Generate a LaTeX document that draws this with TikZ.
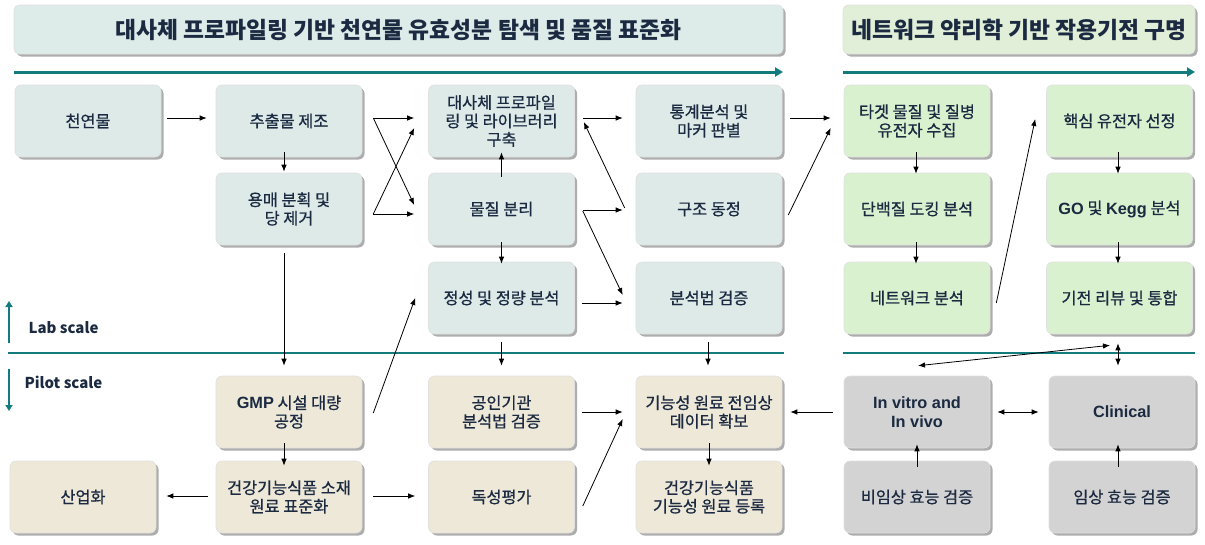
\documentclass[tikz,border=0pt]{standalone}
\usepackage{fontspec}
\setmainfont{Noto Sans CJK KR}
\newfontfamily\medf{Noto Sans CJK KR}[FakeBold=0.7]
\newfontfamily\latf{Liberation Sans}
\usetikzlibrary{arrows.meta,calc,shadows}
\definecolor{tealc}{HTML}{137B7E}
\definecolor{txt}{HTML}{1B2A41}
\definecolor{bluebox}{HTML}{DDEAE8}
\definecolor{greenbox}{HTML}{DAF1D0}
\definecolor{beigebox}{HTML}{EEE8D9}
\definecolor{graybox}{HTML}{D3D3D3}
\definecolor{titleL}{HTML}{DDECE9}
\definecolor{titleR}{HTML}{E1EFD8}
\newcommand{\Lbf}[1]{{\latf\bfseries #1}}
\begin{document}
\begin{tikzpicture}[x=1pt,y=-1pt,
  box/.style={rounded corners=6pt, minimum width=146pt, minimum height=72pt, inner sep=2pt,
    align=center, draw=black!12, line width=0.6pt, text=txt,
    font=\medf\fontsize{16.3}{18.5}\selectfont,
    drop shadow={shadow xshift=2.5pt, shadow yshift=-2.5pt, fill=black, opacity=0.32}},
  bb/.style={box, fill=bluebox},
  gb/.style={box, fill=greenbox},
  eb/.style={box, fill=beigebox},
  yb/.style={box, fill=graybox},
  titlebox/.style={rounded corners=5pt, minimum height=49pt, inner sep=0pt, draw=black!12,
    line width=0.6pt, text=txt, font=\bfseries\fontsize{22.8}{25}\selectfont,
    drop shadow={shadow xshift=2.5pt, shadow yshift=-2.5pt, fill=black, opacity=0.32}},
  arr/.style={-{Latex[length=7pt,width=5.5pt]}, line width=0.8pt},
  darr/.style={{Latex[length=7pt,width=5.5pt]}-{Latex[length=7pt,width=5.5pt]}, line width=0.8pt},
  tarr/.style={tealc, line width=3pt, -{Triangle[length=8pt,width=9pt]}},
  sarr/.style={tealc, line width=2pt, -{Triangle[length=6pt,width=7pt]}},
  scaletxt/.style={anchor=west, text=txt, font=\bfseries\fontsize{15}{18}\selectfont}
]
\useasboundingbox (0,0) rectangle (1205,544);

% titles
\node[titlebox, fill=titleL, minimum width=769pt] (T1) at (398.5,29.5) {대사체 프로파일링 기반 천연물 유효성분 탐색 및 품질 표준화};
\node[titlebox, fill=titleR, minimum width=352pt] (T2) at (1019,29.5) {네트워크 약리학 기반 작용기전 구명};
\coordinate (ta1) at (14,72); \coordinate (ta2) at (783,72);
\coordinate (tb1) at (843,72); \coordinate (tb2) at (1195,72);
\draw[tarr] (ta1) -- (ta2);
\draw[tarr] (tb1) -- (tb2);

% divider
\coordinate (d1) at (8,353); \coordinate (d2) at (784,353);
\coordinate (d3) at (843,353); \coordinate (d4) at (1195,353);
\draw[tealc, line width=2.5pt] (d1) -- (d2);
\draw[tealc, line width=2.5pt] (d3) -- (d4);
\coordinate (la1) at (9,343); \coordinate (la2) at (9,301);
\coordinate (pa1) at (9,369); \coordinate (pa2) at (9,411);
\draw[sarr] (la1) -- (la2);
\draw[sarr] (pa1) -- (pa2);
\node[scaletxt] (lab) at (25,328) {Lab scale};
\node[scaletxt] (pilot) at (21,382) {Pilot scale};

% row 1
\node[bb] (n11) at (88,121) {천연물};
\node[bb] (n12) at (289,121) {추출물 제조};
\node[bb] (n13) at (501.5,121) {대사체 프로파일\\링 및 라이브러리\\구축};
\node[bb] (n14) at (709,121) {통계분석 및\\마커 판별};
\node[gb] (n15) at (917,121) {타겟 물질 및 질병\\유전자 수집};
\node[gb] (n16) at (1119.5,121) {핵심 유전자 선정};
% row 2
\node[bb] (n22) at (289,209) {용매 분획 및\\당 제거};
\node[bb] (n23) at (501.5,209) {물질 분리};
\node[bb] (n24) at (709,209) {구조 동정};
\node[gb] (n25) at (917,209) {단백질 도킹 분석};
\node[gb] (n26) at (1119.5,209) {\Lbf{GO} 및 \Lbf{Kegg} 분석};
% row 3
\node[bb] (n33) at (501.5,298) {정성 및 정량 분석};
\node[bb] (n34) at (709,298) {분석법 검증};
\node[gb] (n35) at (917,298) {네트워크 분석};
\node[gb] (n36) at (1119.5,298) {기전 리뷰 및 통합};
% row 4
\node[eb] (n42) at (289,412) {\Lbf{GMP} 시설 대량\\공정};
\node[eb] (n43) at (501.5,412) {공인기관\\분석법 검증};
\node[eb] (n44) at (709,412) {기능성 원료 전임상\\데이터 확보};
\node[yb] (n45) at (917,412) {\Lbf{In vitro and}\\\Lbf{In vivo}};
\node[yb] (n46) at (1122,412) {\Lbf{Clinical}};
% row 5
\node[eb] (n51) at (83,497) {산업화};
\node[eb] (n52) at (289,497) {건강기능식품 소재\\원료 표준화};
\node[eb] (n53) at (501.5,497) {독성평가};
\node[eb] (n54) at (709,497) {건강기능식품\\기능성 원료 등록};
\node[yb] (n55) at (917,497) {비임상 효능 검증};
\node[yb] (n56) at (1122,497) {임상 효능 검증};

% connectors
\draw[arr] ($(n11.east)+(6,-3)$) -- ($(n12.west)+(-9,-3)$);
\draw[arr] ($(n12.south)+(-5,-5)$) -- ($(n22.north)+(-5,-1)$);
\draw[arr] ($(n12.east)+(11,-3)$) -- ($(n13.west)+(-14,-3)$);
\draw[arr] ($(n12.east)+(11,-3)$) -- ($(n23.west)+(-14,-4)$);
\draw[arr] ($(n22.east)+(11,5)$) -- ($(n23.west)+(-14,5)$);
\draw[arr] ($(n22.east)+(11,5)$) -- ($(n13.west)+(-14,7)$);
\draw[arr] ($(n23.north)+(0,4)$) -- ($(n13.south)+(0,-5)$);
\draw[arr] ($(n13.east)+(8,-3)$) -- ($(n14.west)+(-13,-3)$);
\draw[arr] ($(n23.east)+(8,1)$) -- ($(n24.west)+(-13,1)$);
\draw[arr] ($(n24.west)+(-11,-1)$) -- ($(n13.east)+(9,1)$);
\draw[arr] ($(n23.east)+(8,2)$) -- ($(n34.west)+(-13,-3)$);
\draw[arr] ($(n23.south)+(0,-3)$) -- ($(n33.north)+(0,2)$);
\draw[arr] ($(n33.east)+(7,5)$) -- ($(n34.west)+(-13,5)$);
\draw[arr] ($(n33.south)+(0,8)$) -- ($(n43.north)+(0,-10)$);
\draw[arr] ($(n34.south)+(-1,8)$) -- ($(n44.north)+(-1,-10)$);
\draw[arr] ($(n22.south)+(-5,8)$) -- ($(n42.north)+(-5,-10)$);
\draw[arr] ($(n43.east)+(7,0)$) -- ($(n44.west)+(-13,0)$);
\draw[arr] ($(n45.west)+(-11,0)$) -- ($(n44.east)+(8,0)$);
\draw[arr] ($(n42.east)+(11,1)$) -- ($(n33.west)+(-13,0)$);
\draw[arr] ($(n14.east)+(8,-3)$) -- ($(n15.west)+(-13,-3)$);
\draw[arr] ($(n24.east)+(6,6)$) -- ($(n15.west)+(-13,7)$);
\draw[arr] ($(n15.south)+(-1,-5)$) -- ($(n25.north)+(-1,1)$);
\draw[arr] ($(n25.south)+(-1,-3)$) -- ($(n35.north)+(-1,2)$);
\draw[arr] ($(n35.east)+(6,5)$) -- ($(n16.west)+(-11,-2)$);
\draw[arr] ($(n16.south)+(-1.5,-5)$) -- ($(n26.north)+(-1.5,1)$);
\draw[arr] ($(n26.south)+(-1.5,-3)$) -- ($(n36.north)+(-1.5,2)$);
\draw[darr] ($(n36.south)+(-1.5,9)$) -- ($(n46.north)+(-4,-10)$);
\draw[darr] ($(n36.south)+(-9.5,11)$) -- ($(n45.north)+(1,-10)$);
\draw[darr] ($(n45.east)+(7,0)$) -- ($(n46.west)+(-10,0)$);
\draw[arr] ($(n55.north)+(0,6)$) -- ($(n45.south)+(0,-4)$);
\draw[arr] ($(n56.north)+(-4,6)$) -- ($(n46.south)+(-4,-4)$);
\draw[arr] ($(n44.south)+(0,-5)$) -- ($(n54.north)+(0,5)$);
\draw[arr] ($(n53.east)+(8,9)$) -- ($(n44.west)+(-13,7)$);
\draw[arr] ($(n52.east)+(11,-1)$) -- ($(n53.west)+(-13,-1)$);
\draw[arr] ($(n52.west)+(-8,-1)$) -- ($(n51.east)+(10,-1)$);
\draw[arr] ($(n42.south)+(-5,-5)$) -- ($(n52.north)+(-5,5)$);
\end{tikzpicture}
\end{document}
